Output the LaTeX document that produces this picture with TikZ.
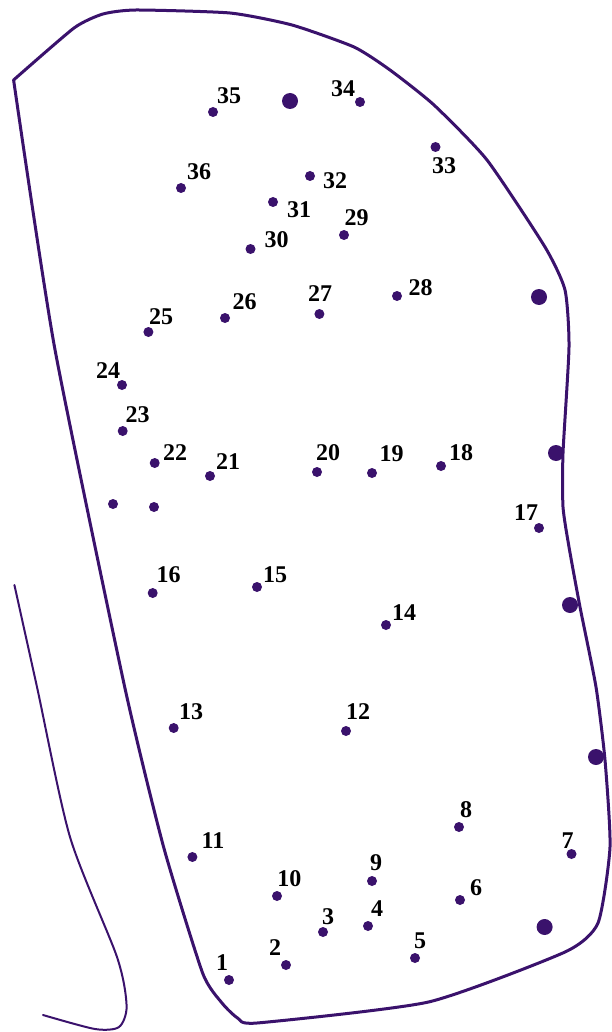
\documentclass[tikz,border=0pt]{standalone}
\usepackage{fontspec}
\setmainfont{Liberation Serif}
\definecolor{ink}{RGB}{58,18,108}
\begin{document}
\begin{tikzpicture}[x=1pt,y=-1pt,
  dot/.style={circle,fill=ink,inner sep=0pt,minimum size=10pt},
  bigdot/.style={circle,fill=ink,inner sep=0pt,minimum size=16pt},
  lab/.style={font=\fontsize{24}{24}\selectfont\bfseries,inner sep=0pt,text=black},
  outline/.style={draw=ink,line width=3pt,line join=round,line cap=round},
  thinline/.style={draw=ink,line width=2pt,line cap=round}]
\useasboundingbox (0,0) rectangle (611,1032);
% main outline
\draw[outline] plot[smooth,tension=0.35] coordinates {
 (13.6,80) (74,28) (103,14) (136,10) (230,13) (292,25) (354,47) (390,70)
 (434,105) (487,160) (545,247) (565,290) (569,347) (563,453) (563,507)
 (569,547) (580,607) (596,687) (605,760) (610,847) (598,923) (565,952)
 (428.5,1002) (257,1023) (237.6,1018) (222,1003) (202.6,973) (163.6,847)
 (124.7,687) (54.5,347) (13.6,80)} -- cycle;
% separate line
\draw[thinline] plot[smooth,tension=0.45] coordinates {
 (14.4,585) (37,687) (70,837) (117,957) (126.6,1006) (119,1027) (95,1029) (43,1015)};
% labelled dots
\foreach \n/\x/\y/\lx/\ly in {
 1/229/980/222/963, 2/286/965/275/948, 3/323/932/328/917, 4/368/926/377/909,
 5/415/958/420/941, 6/460/900/476/888, 7/571.5/854/567.6/841, 8/459/827/466/810,
 9/372/881/376/863, 10/277/896/289.4/879, 11/192.4/857/213/841, 12/346/731/358/712,
 13/173.7/728/191/712, 14/386/625/404/613, 15/257/587/275/575, 16/152.7/593/168.7/575,
 17/539/528/526/513, 18/441/466/461/453, 19/372/473/391.5/454, 20/317/472/328/453,
 21/210/476/228/462, 22/154.7/463/175/453, 23/122.7/431/137.5/415, 24/122/385/108/371,
 25/148.4/332/161/317, 26/225/318/244.6/302, 27/319.4/314/320/294, 28/397/296/420.7/288,
 29/344/235/356.5/218, 30/250.5/249/276.6/240, 31/273/202/299/210, 32/310/176/335/181,
 33/435.5/147/444/166, 34/360/102/343/89, 35/213/112/229/96, 36/181/188/199/172}
{
 \node[dot] (d\n) at (\x,\y) {};
 \node[lab] (l\n) at (\lx,\ly) {\n};
}
% big dots
\node[bigdot] (b1) at (290,101) {};
\node[bigdot] (b2) at (539,297) {};
\node[bigdot] (b3) at (556,453) {};
\node[bigdot] (b4) at (570,605) {};
\node[bigdot] (b5) at (596,757) {};
\node[bigdot] (b6) at (544.6,927) {};
% unlabelled dots
\node[dot] (u1) at (113,504) {};
\node[dot] (u2) at (154,507) {};
\end{tikzpicture}
\end{document}
